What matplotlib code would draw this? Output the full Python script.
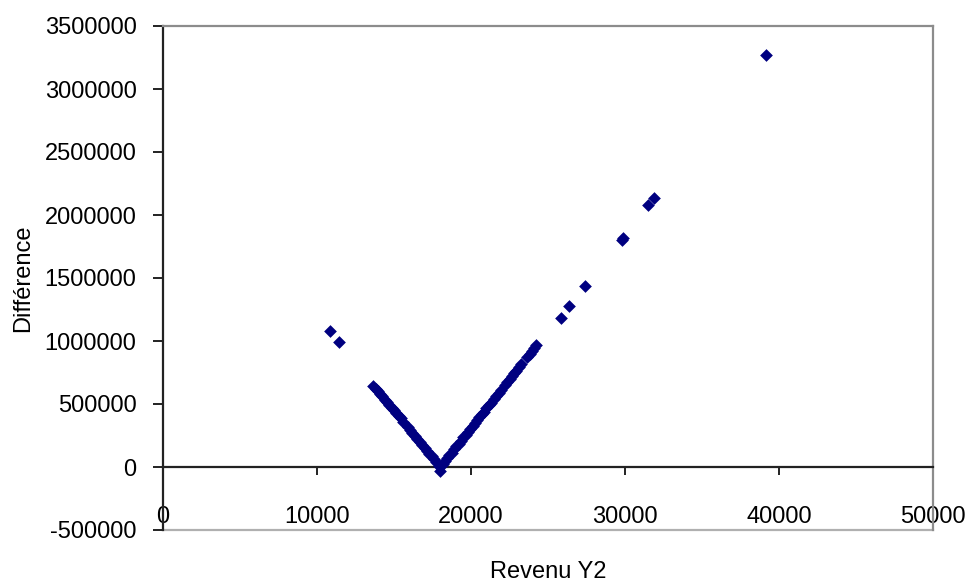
import matplotlib
matplotlib.use("Agg")
import matplotlib.pyplot as plt
from matplotlib.lines import Line2D

plt.rcParams['font.family'] = ['Liberation Sans', 'DejaVu Sans']

# Revenu Y2 and the corresponding difference values
revenu = [
    10850, 11450,
    13650, 13800, 13950, 14100, 14250, 14400, 14550, 14700, 14850, 15000,
    15150, 15300, 15450, 15600,
    15900, 16050, 16200, 16350, 16500, 16700, 16850, 17000, 17150, 17300,
    17450, 17600, 17750, 17900, 18000,
    18150, 18300, 18450, 18600, 18750, 18900, 19050, 19200, 19350, 19500,
    19650, 19800, 19950, 20100, 20250, 20400, 20550, 20700, 20850, 21000,
    21150, 21300,
    21500, 21650, 21800, 21950,
    22200, 22350, 22500, 22650, 22800, 22950, 23100, 23250,
    23650, 23800, 23950, 24100, 24250,
    25820, 26360, 27400, 29800, 29850, 31470, 31900, 39140,
]
difference = [
    1080000, 995000,
    640000, 620000, 600000, 580000, 560000, 535000, 515000, 495000, 470000, 450000,
    425000, 405000, 385000, 360000,
    315000, 295000, 270000, 250000, 225000, 195000, 175000, 150000, 130000, 105000,
    85000, 60000, 40000, 10000, -30000,
    20000, 45000, 70000, 95000, 115000, 140000, 165000, 185000, 210000, 235000,
    255000, 280000, 305000, 325000, 350000, 370000, 395000, 420000, 440000, 465000,
    490000, 510000,
    540000, 565000, 590000, 610000,
    650000, 675000, 700000, 720000, 745000, 765000, 790000, 815000,
    875000, 900000, 920000, 945000, 970000,
    1185000, 1278000, 1437000, 1800000, 1820000, 2080000, 2133000, 3270000,
]

x_ticks = [0, 10000, 20000, 30000, 40000, 50000]
y_ticks = [-500000, 0, 500000, 1000000, 1500000, 2000000, 2500000, 3000000, 3500000]

fig = plt.figure(figsize=(9.67, 5.84), dpi=100)
ax = fig.add_axes([163 / 967, 54 / 584, 770 / 967, 504 / 584])

ax.scatter(revenu, difference, marker='D', s=42, color='#000080',
           linewidths=0, zorder=3)

ax.set_xlim(0, 50000)
ax.set_ylim(-500000, 3500000)
ax.set_xticks(x_ticks)
ax.set_yticks(y_ticks)
ax.set_xticklabels([str(v) for v in x_ticks])
ax.set_yticklabels([str(v) for v in y_ticks])

# x axis crosses at zero; plot-area frame in grey
ax.spines['bottom'].set_position(('data', 0))
ax.spines['bottom'].set_color('#222222')
ax.spines['bottom'].set_linewidth(1.6)
ax.spines['left'].set_color('#222222')
ax.spines['left'].set_linewidth(1.6)
for side in ('top', 'right'):
    ax.spines[side].set_color('#8c8c8c')
    ax.spines[side].set_linewidth(1.6)
ax.add_line(Line2D([0, 1], [0, 0], transform=ax.transAxes, color='#b0b0b0',
                   linewidth=1.6, clip_on=False, zorder=1))

ax.tick_params(axis='x', direction='out', length=6, width=1.4, colors='#222222',
               labelsize=17, pad=22, labelcolor='black')
ax.tick_params(axis='y', direction='out', length=7, width=1.4, colors='#222222',
               labelsize=17, pad=12, labelcolor='black')

ax.set_xlabel('Revenu Y2', fontsize=17)
ax.set_ylabel('Différence', fontsize=17)
ax.xaxis.set_label_coords(0.5, -0.062)
ax.yaxis.set_label_coords(-0.168, 0.5)

fig.savefig('out.png', dpi=100, facecolor='white')
